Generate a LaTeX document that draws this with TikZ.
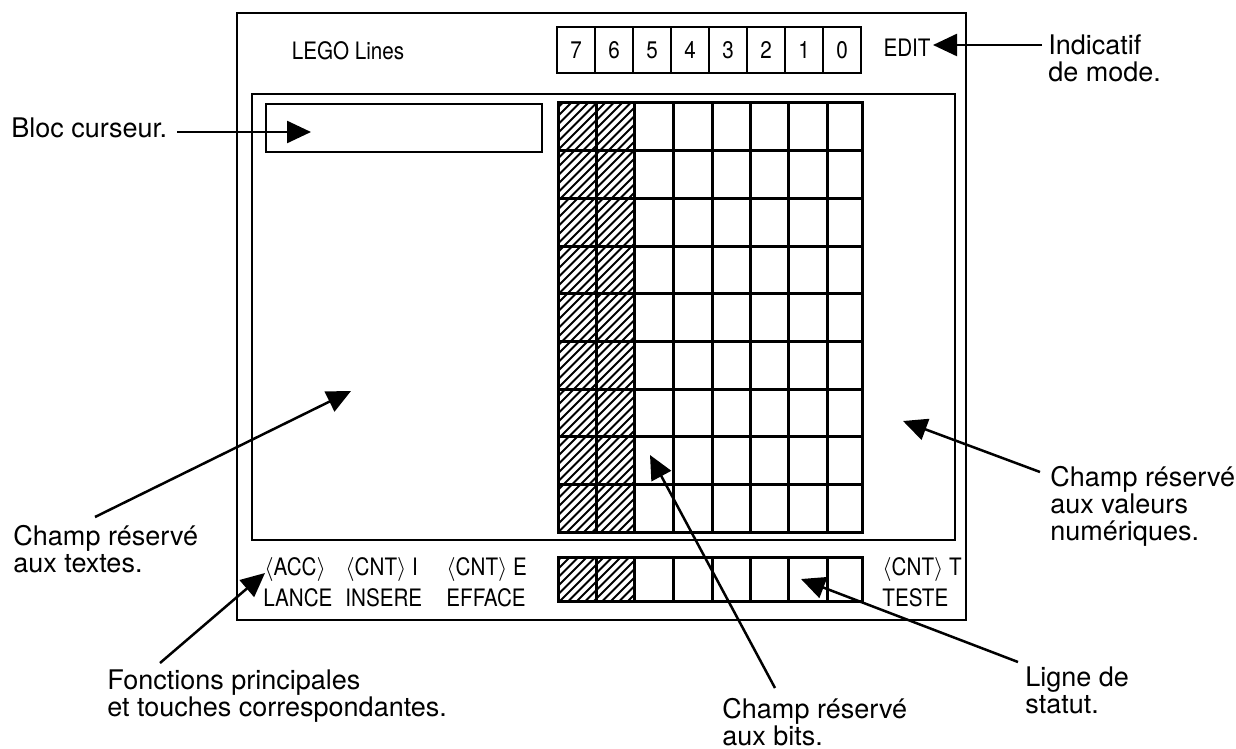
\documentclass[tikz,border=0pt]{standalone}
\usepackage{fontspec}
\setmainfont{TeX Gyre Heros}
\newfontfamily\condfont[FakeStretch=0.86]{TeX Gyre Heros}
\usetikzlibrary{arrows.meta}
\begin{document}
\begin{tikzpicture}[x=0.5pt,y=-0.5pt,
  frame/.style={line width=1.3pt},
  cell/.style={line width=1.5pt},
  hatch/.style={line width=1pt},
  lbl/.style={font=\fontsize{13.5}{13.5}\selectfont, align=left, inner sep=0pt, anchor=base west},
  scr/.style={font=\condfont\fontsize{12}{12}\selectfont, inner sep=0pt},
  arr/.style={line width=1.25pt, -{Triangle[length=12pt,width=11pt]}},
]
\useasboundingbox (0,0) rectangle (1236,749);
% outer and inner frames
\draw[frame] (237,13) rectangle (966,620);
\draw[frame] (252,94) rectangle (955,540);
% cursor block
\draw[line width=0.8pt] (266,104) rectangle (542,152);
% top digit row
\foreach \d [count=\i from 0] in {7,6,5,4,3,2,1,0} {
  \draw[line width=1.2pt] (557+\i*38,27) rectangle (595+\i*38,73);
  \node[scr] (dig\d) at (576+\i*38,50) {\d};
}
\node[scr] (lego) at (348,51) {LEGO Lines};
\node[scr] (edit) at (907,48) {EDIT};
% hatching of grid
\begin{scope}
  \clip (558,103) rectangle (634,532);
  \foreach \k in {0,...,65} \draw[hatch] (100+\k*8.5,540) -- (550+\k*8.5,90);
\end{scope}
\begin{scope}
  \clip (558,557) rectangle (634,601);
  \foreach \k in {0,...,20} \draw[hatch] (500+\k*8.5,610) -- (560+\k*8.5,550);
\end{scope}
% main grid
\foreach \r in {0,...,8} {
  \foreach \c/\xa/\xb in {0/558/596,1/596/634,2/634/673,3/673/712,4/712/750,5/750/788,6/788/827,7/827/862} {
    \draw[cell] (\xa,103+\r*47.67) rectangle (\xb,103+\r*47.67+47.67);
  }
}
% status row
\foreach \c/\xa/\xb in {0/558/596,1/596/634,2/634/673,3/673/712,4/712/750,5/750/788,6/788/827,7/827/862} {
  \draw[cell] (\xa,557) rectangle (\xb,601);
}
% bottom key labels
\node[scr, anchor=base west] (acc) at (264,575) {$\langle$ACC$\rangle$};
\node[scr, anchor=base west] (cnti) at (345,575) {$\langle$CNT$\rangle$ I};
\node[scr, anchor=base west] (cnte) at (446,575) {$\langle$CNT$\rangle$ E};
\node[scr, anchor=base west] (lance) at (263,606) {LANCE};
\node[scr, anchor=base west] (insere) at (345,606) {INSERE};
\node[scr, anchor=base west] (efface) at (446,606) {EFFACE};
\node[scr, anchor=base west] (cntt) at (882,575) {$\langle$CNT$\rangle$ T};
\node[scr, anchor=base west] (teste) at (882,606) {TESTE};
% outside labels (anchor = baseline of last line)
\node[lbl] (mode) at (1048,82) {Indicatif\\de mode.};
\node[lbl] (bloc) at (11,138) {Bloc curseur.};
\node[lbl] (textes) at (13,572) {Champ réservé\\aux textes.};
\node[lbl] (fonct) at (107,716) {Fonctions principales\\et touches correspondantes.};
\node[lbl] (bits) at (722,745) {Champ réservé\\aux bits.};
\node[lbl] (statut) at (1025,713) {Ligne de\\statut.};
\node[lbl] (valeurs) at (1050,540) {Champ réservé\\aux valeurs\\numériques.};
% arrow ends
\coordinate (modeS) at (1042,45);   \coordinate (modeT) at (933,45);
\coordinate (blocS) at (177,132);   \coordinate (blocT) at (311,132);
\coordinate (textS) at (95,517);    \coordinate (textT) at (351,391);
\coordinate (fonS) at (160,663);    \coordinate (fonT) at (265,573);
\coordinate (bitS) at (775,688);    \coordinate (bitT) at (650,455);
\coordinate (statS) at (1018,662);  \coordinate (statT) at (801,579);
\coordinate (valS) at (1040,472);   \coordinate (valT) at (903,421);
\draw[arr] (modeS) -- (modeT);
\draw[arr] (blocS) -- (blocT);
\draw[arr] (textS) -- (textT);
\draw[arr] (fonS) -- (fonT);
\draw[arr] (bitS) -- (bitT);
\draw[arr] (statS) -- (statT);
\draw[arr] (valS) -- (valT);
\end{tikzpicture}
\end{document}
